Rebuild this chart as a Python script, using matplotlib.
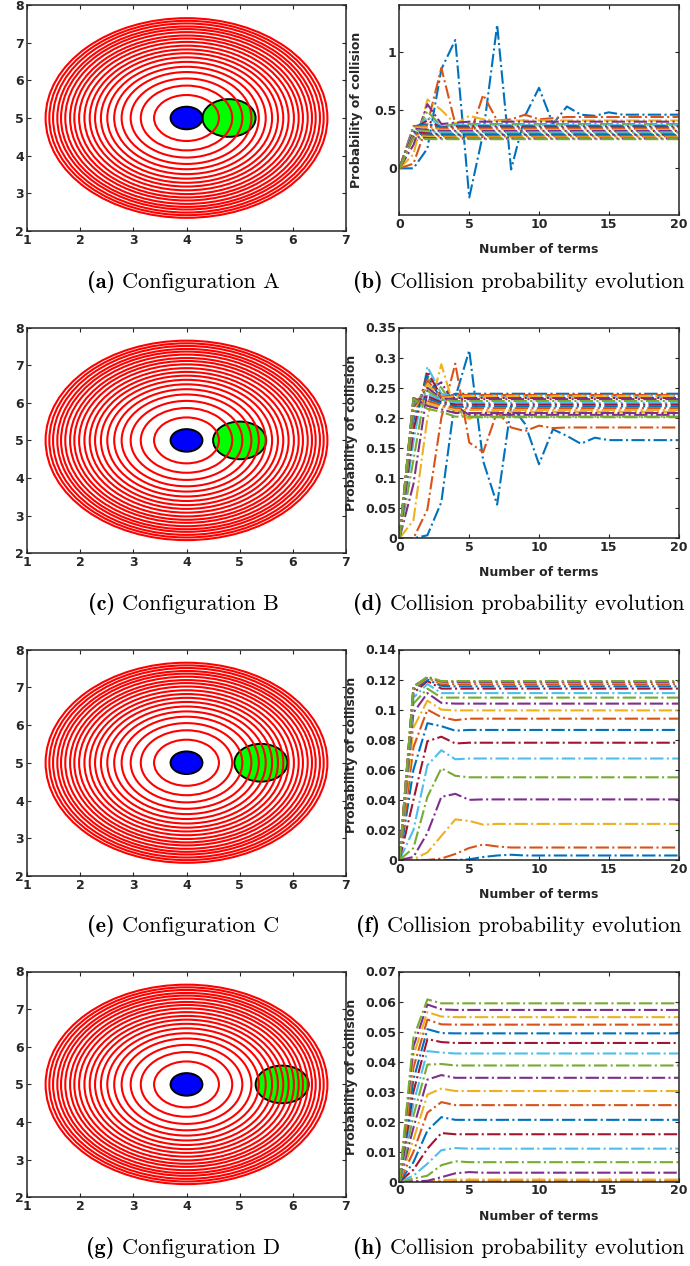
import numpy as np
import matplotlib
matplotlib.use('Agg')
import matplotlib.pyplot as plt
from matplotlib.patches import Ellipse
from matplotlib.ticker import FuncFormatter

plt.rcParams['font.family'] = ['DejaVu Sans']

# ---------------- data ----------------
terms = list(range(21))

# concentric rings around the primary object (data units)
ring_radii = [0.61, 0.86, 1.05, 1.22, 1.36, 1.49, 1.61, 1.72, 1.82, 1.92,
              2.02, 2.11, 2.19, 2.28, 2.36, 2.43, 2.51, 2.58, 2.65]
primary_xy = (4.0, 5.0)
primary_r = 0.3
secondary_x = [4.8, 5.0, 5.4, 5.8]
secondary_r = 0.5

configs = ['A', 'B', 'C', 'D']
letters_left = ['a', 'c', 'e', 'g']
letters_right = ['b', 'd', 'f', 'h']

b_head = [
    [0, 0.0, 0.17, 0.85, 1.10, -0.25, 0.30, 1.23, -0.01, 0.45, 0.69, 0.38, 0.53, 0.46, 0.45, 0.48],
    [0, 0.04, 0.38, 0.86, 0.38, 0.27, 0.63, 0.41, 0.42, 0.46, 0.42, 0.43],
    [0, 0.12, 0.59, 0.50, 0.38, 0.45, 0.42, 0.41],
    [0, 0.20, 0.55, 0.38, 0.39],
    [0, 0.27, 0.49, 0.36, 0.38],
    [0, 0.31, 0.44, 0.36, 0.37],
    [0, 0.34, 0.41, 0.35],
    [0, 0.36, 0.38, 0.35],
    [0, 0.36, 0.36, 0.34],
    [0, 0.35, 0.35, 0.33],
    [0, 0.34, 0.33, 0.32],
    [0, 0.33, 0.32, 0.31],
    [0, 0.32, 0.31, 0.30],
    [0, 0.31, 0.30, 0.29],
    [0, 0.30, 0.29, 0.285],
    [0, 0.29, 0.28, 0.275],
    [0, 0.28, 0.27, 0.265],
    [0, 0.27, 0.26, 0.258],
    [0, 0.26, 0.25, 0.25],
]
b_tail = [0.46, 0.44, 0.41, 0.40, 0.38, 0.37, 0.36, 0.35, 0.34, 0.33,
          0.32, 0.31, 0.30, 0.29, 0.285, 0.275, 0.265, 0.255, 0.25]

d_head = [
    [0, 0.0, 0.005, 0.06, 0.234, 0.312, 0.128, 0.056, 0.22, 0.19, 0.123, 0.181, 0.17, 0.157, 0.167, 0.163],
    [0, 0.0, 0.048, 0.20, 0.29, 0.159, 0.143, 0.21, 0.184, 0.178, 0.187, 0.183],
    [0, 0.03, 0.20, 0.289, 0.21, 0.198, 0.21],
    [0, 0.09, 0.245, 0.259, 0.22],
    [0, 0.13, 0.265, 0.25, 0.215],
    [0, 0.16, 0.285, 0.24],
    [0, 0.18, 0.277, 0.235],
    [0, 0.195, 0.27, 0.23],
    [0, 0.205, 0.262, 0.235],
    [0, 0.212, 0.256, 0.233],
    [0, 0.218, 0.25, 0.232],
    [0, 0.222, 0.245, 0.23],
    [0, 0.226, 0.24, 0.229],
    [0, 0.228, 0.236, 0.226],
    [0, 0.23, 0.232, 0.224],
    [0, 0.232, 0.228, 0.221],
    [0, 0.233, 0.224, 0.218],
    [0, 0.233, 0.22, 0.214],
    [0, 0.232, 0.215, 0.21],
]
d_tail = [0.163, 0.184, 0.21, 0.205, 0.201, 0.235, 0.233, 0.24, 0.238, 0.236,
          0.231, 0.228, 0.225, 0.222, 0.219, 0.216, 0.213, 0.208, 0.202]

f_head = [
    [0, 0, 0, 0, 0, 0.0005, 0.002, 0.003, 0.0035],
    [0, 0, 0, 0.001, 0.004, 0.008, 0.0103, 0.009],
    [0, 0.0005, 0.005, 0.016, 0.027, 0.026, 0.0235],
    [0, 0.002, 0.018, 0.042, 0.044, 0.040],
    [0, 0.008, 0.042, 0.061, 0.056],
    [0, 0.02, 0.063, 0.073, 0.067],
    [0, 0.04, 0.079, 0.082, 0.0775],
    [0, 0.06, 0.091, 0.089, 0.086],
    [0, 0.075, 0.100, 0.095, 0.093],
    [0, 0.088, 0.106, 0.100],
    [0, 0.098, 0.111, 0.1045],
    [0, 0.104, 0.114, 0.108],
    [0, 0.108, 0.117, 0.111],
    [0, 0.111, 0.119, 0.114],
    [0, 0.113, 0.120, 0.1158],
    [0, 0.114, 0.121, 0.117],
    [0, 0.115, 0.121, 0.118],
    [0, 0.1155, 0.1215, 0.1187],
    [0, 0.115, 0.122, 0.119],
]
f_tail = [0.003, 0.0083, 0.024, 0.0403, 0.055, 0.0675, 0.078, 0.0865, 0.094, 0.0995,
          0.104, 0.108, 0.111, 0.114, 0.1155, 0.117, 0.118, 0.1185, 0.119]

h_head = [
    [0, 0, 0, 0],
    [0, 0, 0, 0.0002],
    [0, 0, 0.0002, 0.0005],
    [0, 0.0001, 0.0003, 0.0015, 0.0028, 0.0032],
    [0, 0.001, 0.002, 0.0055, 0.0068],
    [0, 0.002, 0.006, 0.0105, 0.0112],
    [0, 0.004, 0.011, 0.0162],
    [0, 0.0065, 0.017, 0.0215],
    [0, 0.010, 0.023, 0.0265],
    [0, 0.014, 0.029, 0.031],
    [0, 0.018, 0.034, 0.0355],
    [0, 0.022, 0.039, 0.0392],
    [0, 0.026, 0.0435, 0.043],
    [0, 0.030, 0.0475, 0.0465],
    [0, 0.034, 0.0508, 0.0495],
    [0, 0.038, 0.054, 0.0524],
    [0, 0.042, 0.0565, 0.055],
    [0, 0.045, 0.059, 0.0574],
    [0, 0.048, 0.0607, 0.0594],
]
h_tail = [0.00005, 0.0003, 0.0007, 0.003, 0.0065, 0.011, 0.0158, 0.0206, 0.0255, 0.0302,
          0.0346, 0.0387, 0.0427, 0.0462, 0.0494, 0.0523, 0.0548, 0.0572, 0.0594]

heads = [b_head, d_head, f_head, h_head]
tails = [b_tail, d_tail, f_tail, h_tail]
ylims = [(-0.4, 1.4), (0, 0.35), (0, 0.14), (0, 0.07)]
yticks = [[0, 0.5, 1], np.arange(0, 0.351, 0.05), np.arange(0, 0.141, 0.02), np.arange(0, 0.071, 0.01)]

matlab_colors = ['#0072BD', '#D95319', '#EDB120', '#7E2F8E', '#77AC30', '#4DBEEE', '#A2142F']

# ---------------- layout (pixels) ----------------
W, H = 690, 1266
row_top = [5, 327.5, 649.5, 971.5]
left_bottom = [231, 553.3, 876, 1197.3]
right_bottom = [215, 538.3, 860, 1181.7]
ylabel_x = [363, 358, 358, 358]
caption_y = [282, 604, 926, 1248]
FS = 9


def px(l, t, r, b):
    return [l / W, 1 - b / H, (r - l) / W, (b - t) / H]


def style(ax):
    ax.tick_params(direction='in', top=True, right=True, length=3, width=0.8,
                   labelsize=FS, colors='#262626', pad=2)
    for lab in ax.get_xticklabels() + ax.get_yticklabels():
        lab.set_fontweight('bold')
    for s in ax.spines.values():
        s.set_linewidth(1.1)
        s.set_color('#262626')


fig = plt.figure(figsize=(W / 100, H / 100), dpi=100)
gfmt = FuncFormatter(lambda v, p: '%g' % round(v, 4))
captions = []

for i in range(4):
    # ---- left: geometry ----
    ax = fig.add_axes(px(27, row_top[i], 346, left_bottom[i]))
    ax.add_patch(Ellipse((secondary_x[i], 5.0), 2 * secondary_r, 2 * secondary_r,
                         facecolor='#00FF00', edgecolor='black', lw=1.4, zorder=2))
    for r in ring_radii:
        ax.add_patch(Ellipse(primary_xy, 2 * r, 2 * r, fill=False,
                             edgecolor='#FF0000', lw=1.5, zorder=3))
    ax.add_patch(Ellipse(primary_xy, 2 * primary_r, 2 * primary_r,
                         facecolor='#0000FF', edgecolor='black', lw=1.4, zorder=4))
    ax.set_xlim(1, 7)
    ax.set_ylim(2, 8)
    ax.set_xticks(range(1, 8))
    ax.set_yticks(range(2, 9))
    style(ax)

    # ---- right: probability evolution ----
    ax2 = fig.add_axes(px(399.5, row_top[i], 678.5, right_bottom[i]))
    for k, (hd, tl) in enumerate(zip(heads[i], tails[i])):
        vals = hd + [tl] * (len(terms) - len(hd))
        ax2.plot(terms, vals, linestyle='-.', lw=1.5,
                 color=matlab_colors[k % len(matlab_colors)])
    ax2.set_xlim(0, 20)
    ax2.set_ylim(*ylims[i])
    ax2.set_xticks([0, 5, 10, 15, 20])
    ax2.set_yticks(yticks[i])
    ax2.yaxis.set_major_formatter(gfmt)
    style(ax2)
    hpx = right_bottom[i] - row_top[i]
    ax2.set_xlabel('Number of terms', fontsize=FS, fontweight='bold', color='#262626')
    ax2.xaxis.set_label_coords(0.5, -28 / hpx)
    ax2.set_ylabel('Probability of collision', fontsize=FS, fontweight='bold', color='#262626')
    ax2.yaxis.set_label_coords((ylabel_x[i] - 399.5) / 279, 0.5)

    # ---- captions: bold tag + roman text ----
    for cx, tag, txt in [(183, letters_left[i], 'Configuration ' + configs[i]),
                         (519, letters_right[i], 'Collision probability evolution')]:
        y = 1 - caption_y[i] / H
        t1 = fig.text(0, y, '(%s)' % tag, fontfamily='cmb10', fontsize=16, va='center')
        t2 = fig.text(0, y, txt, fontfamily='cmr10', fontsize=16, va='center')
        captions.append((cx, t1, t2))

# place caption pieces side by side, centred on their column
fig.canvas.draw()
rend = fig.canvas.get_renderer()
gap = 7
for cx, t1, t2 in captions:
    w1 = t1.get_window_extent(rend).width
    w2 = t2.get_window_extent(rend).width
    x0 = cx - (w1 + gap + w2) / 2
    t1.set_x(x0 / W)
    t2.set_x((x0 + w1 + gap) / W)

fig.savefig('out.png', dpi=100)
